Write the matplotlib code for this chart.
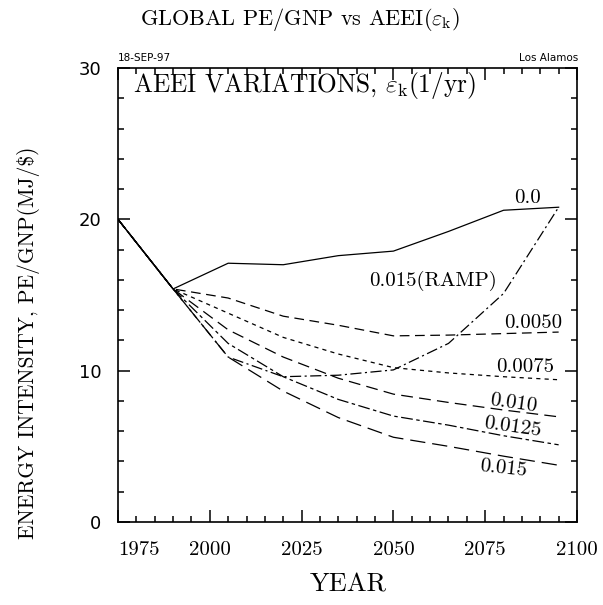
import numpy as np
import matplotlib
matplotlib.use('Agg')
import matplotlib.pyplot as plt
from matplotlib.ticker import MultipleLocator

plt.rcParams['mathtext.fontset'] = 'cm'
plt.rcParams['axes.unicode_minus'] = False
plt.rcParams['axes.formatter.use_mathtext'] = True
plt.rcParams['lines.scale_dashes'] = False

# data (PE/GNP in MJ/$)
years = [1975, 1990, 2005, 2020, 2035, 2050, 2065, 2080, 2095]
pe_00 = [20.0, 15.4, 17.1, 17.0, 17.6, 17.9, 19.2, 20.6, 20.8]
pe_0050 = [20.0, 15.4, 14.8, 13.6, 13.0, 12.3, 12.35, 12.45, 12.55]
pe_0075 = [20.0, 15.4, 13.8, 12.2, 11.1, 10.2, 9.85, 9.6, 9.4]
pe_010 = [20.0, 15.4, 12.7, 10.9, 9.5, 8.45, 7.9, 7.4, 6.95]
pe_0125 = [20.0, 15.4, 11.8, 9.6, 8.1, 7.0, 6.4, 5.7, 5.1]
pe_015 = [20.0, 15.4, 10.9, 8.65, 6.9, 5.6, 5.0, 4.35, 3.75]
pe_ramp = [20.0, 15.4, 10.9, 9.6, 9.7, 10.05, 11.8, 15.1, 20.8]

xticks = [1975, 2000, 2025, 2050, 2075, 2100]
yticks = [0, 10, 20, 30]

W, H = 603, 605
fig = plt.figure(figsize=(W / 100, H / 100), dpi=100)
ax = fig.add_axes([118 / W, 1 - 522 / H, (577 - 118) / W, (522 - 68) / H])

lw = 0.9
ax.plot(years, pe_00, color='k', lw=lw)
ax.plot(years, pe_0050, color='k', lw=lw, dashes=(7, 4))
ax.plot(years, pe_0075, color='k', lw=lw, dashes=(3, 3))
ax.plot(years, pe_010, color='k', lw=lw, dashes=(8.5, 4.5))
ax.plot(years, pe_0125, color='k', lw=lw, dashes=(8.5, 2.5, 2.5, 2.5))
ax.plot(years, pe_015, color='k', lw=lw, dashes=(11, 5))
ax.plot(years, pe_ramp, color='k', lw=lw, dashes=(8, 2.5, 1.5, 2.5))

ax.set_xlim(1975, 2100)
ax.set_ylim(0, 30)
ax.set_xticks(xticks)
ax.xaxis.set_minor_locator(MultipleLocator(5))
ax.set_yticks(yticks)
ax.yaxis.set_minor_locator(MultipleLocator(2))
ax.tick_params(which='both', direction='in', top=True, right=True, width=1.1)
ax.tick_params(which='major', length=8.5)
ax.tick_params(which='minor', length=4.3)
ax.tick_params(axis='x', pad=14)
ax.tick_params(axis='y', pad=12)
for s in ax.spines.values():
    s.set_linewidth(1.2)

ax.set_xticklabels([str(t) for t in xticks], fontfamily='cmr10', fontsize=15)
ax.get_xticklabels()[0].set_horizontalalignment('left')
ax.set_yticklabels([str(t) for t in yticks], fontfamily='DejaVu Sans', fontsize=13)

# curve labels
lab = dict(fontfamily='cmr10', fontsize=15, ha='center', va='center')
ax.text(2086.4, 21.4, '0.0', **lab)
ax.text(2060.8, 15.9, '0.015(RAMP)', **lab)
ax.text(2088.0, 13.15, '0.0050', **lab)
ax.text(2085.8, 10.25, '0.0075', **lab)
ax.text(2082.6, 7.85, '0.010', rotation=-8, **lab)
ax.text(2082.3, 6.3, '0.0125', rotation=-8, **lab)
ax.text(2079.8, 3.55, '0.015', rotation=-6, **lab)

# titles and labels
fig.text(300 / W, 1 - 25 / H, r'GLOBAL PE/GNP vs AEEI($\varepsilon_{\rm k}$)',
         fontfamily='cmr10', fontsize=16, ha='center', va='baseline')
fig.text(133 / W, 1 - 92 / H, r'AEEI VARIATIONS, $\varepsilon_{\rm k}$(1/yr)',
         fontfamily='cmr10', fontsize=18.3, ha='left', va='baseline')
fig.text(118 / W, 1 - 61 / H, '18-SEP-97', fontfamily='DejaVu Sans',
         fontsize=7.5, ha='left', va='baseline')
fig.text(578 / W, 1 - 61 / H, 'Los Alamos', fontfamily='DejaVu Sans',
         fontsize=7.5, ha='right', va='baseline')
fig.text(348 / W, 1 - 592 / H, 'YEAR', fontfamily='cmr10', fontsize=19,
         ha='center', va='baseline')
fig.text(29 / W, 1 - 343 / H, r'ENERGY INTENSITY, PE/GNP(MJ/\$)',
         fontfamily='cmr10', fontsize=15.5, rotation=90, ha='center', va='center')

fig.savefig('out.png', dpi=100)
